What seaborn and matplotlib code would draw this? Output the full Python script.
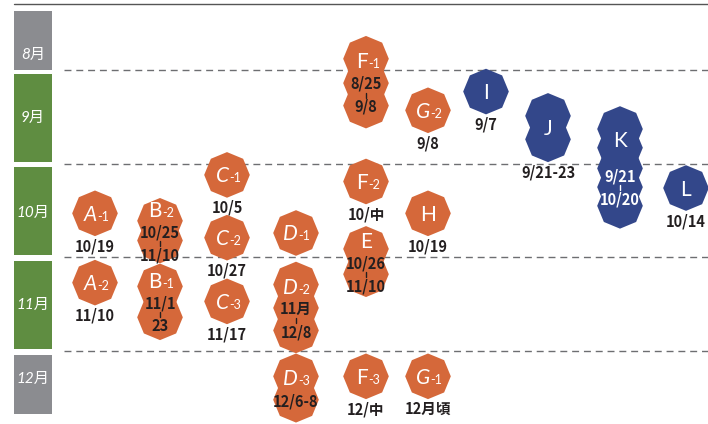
import pandas as pd
import seaborn as sns
import matplotlib.pyplot as plt

# --- data ---
month_labels = ["8月", "9月", "10月", "11月", "12月"]
month_starts = [8, 9, 10, 11, 12]

item_names = ["A-1", "A-2", "B-2", "B-1", "C-1", "C-2", "C-3", "D-1", "D-2", "D-3",
              "E", "F-1", "F-2", "F-3", "G-2", "G-1", "H", "I", "J", "K", "L"]
item_cols = ["A", "A", "B", "B", "C", "C", "C", "D", "D", "D",
             "EF", "EF", "EF", "EF", "GH", "GH", "GH", "I", "J", "K", "L"]
# timing of each blob of an item, in months (10.5 = middle of October)
item_timing = [[10.53], [11.27], [10.61, 10.82], [11.31, 11.64],
               [10.12], [10.79], [11.47], [10.74], [11.29, 11.54, 11.78], [12.27, 12.52],
               [10.91, 11.18], [8.88, 9.14, 9.38], [10.19], [12.27],
               [9.43], [12.27], [10.53], [9.23], [9.49, 9.74],
               [9.63, 9.83, 10.05, 10.25, 10.45], [10.26]]
item_dates = [["10/19"], ["11/10"], ["10/25", "11/10"], ["11/1", "23"],
              ["10/5"], ["10/27"], ["11/17"], [], ["11月", "12/8"], ["12/6-8"],
              ["10/26", "11/10"], ["8/25", "9/8"], ["10/中"], ["12/中"],
              ["9/8"], ["12月頃"], ["10/19"], ["9/7"], ["9/21-23"], ["9/21", "10/20"], ["10/14"]]
item_group = ["orange"] * 17 + ["navy"] * 4

# --- layout / style ---
col_x = {"A": 95, "B": 160, "C": 227, "D": 296, "EF": 366, "GH": 428,
         "I": 486, "J": 548, "K": 620, "L": 686}
palette = {"orange": "#d5683a", "navy": "#33478a"}
month_colors = ["#8b8c90", "#5f8d41", "#5f8d41", "#5f8d41", "#8b8c90"]
label_y = [8.84, 9.51, 10.53, 11.51, 12.30]
italic_letters = {"A", "C", "D", "G"}
inside_offsets = {"K": [-30, 7, 30]}   # special spacing for the tall K shape
dark = "#231f20"
date_font = ["Liberation Sans Narrow", "Noto Sans CJK JP", "DejaVu Sans"]

sns.set_theme(style="white")
plt.rcParams['font.family'] = ['Lato', 'Noto Sans CJK JP', 'DejaVu Sans']

PXM = 93.67  # pixels per month


def px(v):
    return v / PXM


rows = []
for name, col, blobs, grp in zip(item_names, item_cols, item_timing, item_group):
    for t in blobs:
        rows.append({"item": name, "x": col_x[col], "month": t, "group": grp})
df = pd.DataFrame(rows)

fig = plt.figure(figsize=(7.08, 4.24), dpi=100)
ax = fig.add_axes([0, 0, 1, 1])
ax.set_xlim(0, 708)
ax.set_ylim(12.779, 8.2527)
ax.axis('off')

# frame: top rule, month boxes, dashed month boundaries
ax.plot([14, 708], [8.295, 8.295], color="#555555", lw=1)
for m, lab, c, ly in zip(month_starts, month_labels, month_colors, label_y):
    y0 = max(m + 0.04, 8.37)
    y1 = min(m + 0.98, 12.67) if m != 8 else 9.0
    ax.axhspan(y0, y1, xmin=14 / 708, xmax=52 / 708, color=c, lw=0)
    ax.text(33, ly, lab, color="white", fontsize=11, fontstyle="italic",
            ha="center", va="center")
ax.hlines(month_starts[1:], 64, 708, colors="#6d6e71", lw=1,
          linestyles=(0, (5, 3.5)), zorder=1)

sns.scatterplot(data=df, x="x", y="month", hue="group", palette=palette,
                marker=(8, 0, 0), s=1080, linewidth=0, legend=False,
                ax=ax, zorder=3)

for name, col, blobs, dates, grp in zip(item_names, item_cols, item_timing,
                                        item_dates, item_group):
    x = col_x[col]
    letter, _, suf = name.partition("-")
    inside = len(blobs) > 1 and len(dates) > 0 and name != "J"
    center = sum(blobs) / len(blobs)
    if inside:
        center += px(1.5)
        n = 1 + len(dates)
        offs = inside_offsets.get(name, [-23, 0, 23] if n == 3 else [-12, 12])
        ly = center + px(offs[0])
    else:
        ly = center
    style = "italic" if letter in italic_letters else "normal"
    base = ly + px(7.5)
    if suf:
        ax.text(x + 2, base, letter, color="white", fontsize=15, fontstyle=style,
                ha="right", va="baseline", zorder=5)
        ax.text(x + 2, base, "-" + suf, color="white", fontsize=9,
                ha="left", va="baseline", zorder=5)
    else:
        ax.text(x, base, letter, color="white", fontsize=15, fontstyle=style,
                ha="center", va="baseline", zorder=5)

    tcol = "white" if grp == "navy" and inside else dark
    if inside:
        ys = [center + px(o) for o in offs[1:]]
        for d, yy in zip(dates, ys):
            ax.text(x, yy, d, color=tcol, fontsize=10.5, fontweight="bold",
                    family=date_font, ha="center", va="center", zorder=5)
        if len(ys) == 2:
            mid = (ys[0] + ys[1]) / 2
            ax.plot([x, x], [mid - px(2.5), mid + px(2.5)], color=tcol, lw=1, zorder=5)
    elif dates:
        ax.text(x, blobs[-1] + px(33), dates[0], color=dark, fontsize=10.5,
                fontweight="bold", family=date_font, ha="center", va="center", zorder=5)

plt.savefig("out.png", dpi=100)
